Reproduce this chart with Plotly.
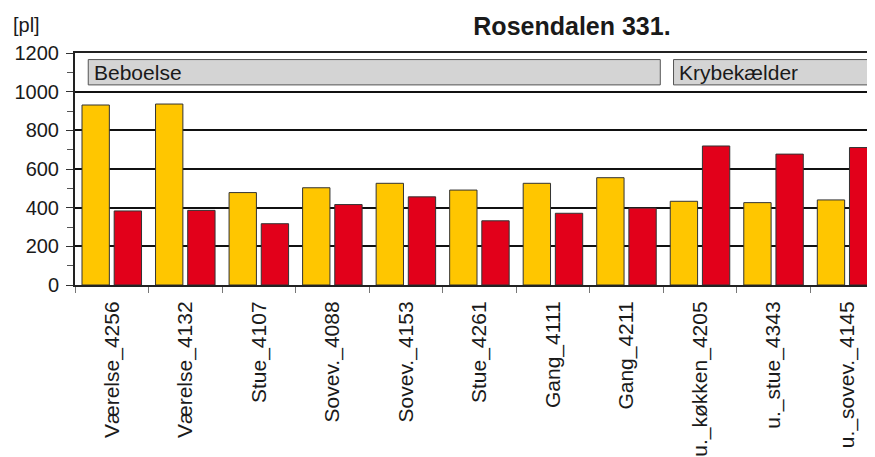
import plotly.graph_objs as go

rooms = ['Værelse_4256', 'Værelse_4132', 'Stue_4107', 'Sovev._4088', 'Sovev._4153',
         'Stue_4261', 'Gang_4111', 'Gang_4211', 'u._køkken_4205', 'u._stue_4343',
         'u._sovev._4145']
yellow_vals = [931, 936, 478, 503, 526, 491, 526, 555, 433, 426, 440]
red_vals = [383, 386, 317, 416, 456, 332, 371, 398, 719, 677, 711]
groups = ['Beboelse', 'Krybekælder']

FONT = 'Arial, Liberation Sans, sans-serif'

data = []
for vals, color in [(yellow_vals, '#FFC600'), (red_vals, '#E2001A')]:
    trace = go.Bar(
        x=rooms,
        y=vals,
        marker=dict(
            color=color,
            line=dict(color='#333333', width=1)
        ),
        showlegend=False
    )
    data.append(trace)

# the page body has an 8px margin, so the figure is a bit smaller than the window
layout = go.Layout(
    width=867,
    height=449,
    margin=dict(l=67, r=0, t=45, b=172, autoexpand=False),
    paper_bgcolor='white',
    plot_bgcolor='white',
    font=dict(family=FONT, color='#1a1a1a'),
    barmode='group',
    bargap=0.125,
    bargroupgap=0.15,
    title=dict(
        text='<b>Rosendalen 331.</b>',
        font=dict(size=25, family=FONT, color='#1a1a1a'),
        x=0.6505, xref='container', xanchor='center',
        y=0.96, yref='container', yanchor='middle',
        automargin=False
    ),
    xaxis=dict(
        type='category',
        range=[-0.5, 10.38],
        automargin=False,
        showline=True,
        linecolor='#222222',
        linewidth=2,
        mirror=True,
        ticks='outside',
        tickson='boundaries',
        ticklen=6,
        tickcolor='#777777',
        tickangle=-90,
        ticklabelstandoff=6,
        tickfont=dict(size=21, family=FONT, color='#1a1a1a'),
        showgrid=False
    ),
    yaxis=dict(
        range=[0, 1200],
        dtick=200,
        automargin=False,
        showline=True,
        linecolor='#222222',
        linewidth=2,
        ticks='outside',
        ticklen=7,
        tickcolor='#333333',
        ticklabelstandoff=3,
        tickfont=dict(size=20, family=FONT, color='#1a1a1a'),
        showgrid=True,
        gridcolor='#111111',
        gridwidth=1.5,
        zeroline=False,
        minor=dict(dtick=100, ticks='outside', ticklen=6, tickcolor='#555555', showgrid=False)
    ),
    shapes=[
        dict(type='rect', xref='x', yref='y', x0=-0.32, x1=7.46, y0=1035, y1=1166,
             fillcolor='#D4D4D4', line=dict(color='#555555', width=1), layer='above'),
        dict(type='rect', xref='x', yref='y', x0=7.64, x1=11.5, y0=1035, y1=1166,
             fillcolor='#D4D4D4', line=dict(color='#555555', width=1), layer='above'),
    ],
    annotations=[
        dict(text=groups[0], xref='x', yref='y', x=-0.27, y=1100, xanchor='left',
             yanchor='middle', showarrow=False, font=dict(size=21, family=FONT, color='#1a1a1a')),
        dict(text=groups[1], xref='x', yref='y', x=7.69, y=1100, xanchor='left',
             yanchor='middle', showarrow=False, font=dict(size=21, family=FONT, color='#1a1a1a')),
        dict(text='[pl]', xref='paper', yref='paper', x=-0.0795, y=1.12, xanchor='left',
             yanchor='middle', showarrow=False, font=dict(size=20, family=FONT, color='#1a1a1a')),
    ]
)

fig = go.Figure(data=data, layout=layout)
fig.write_html('out.html')
